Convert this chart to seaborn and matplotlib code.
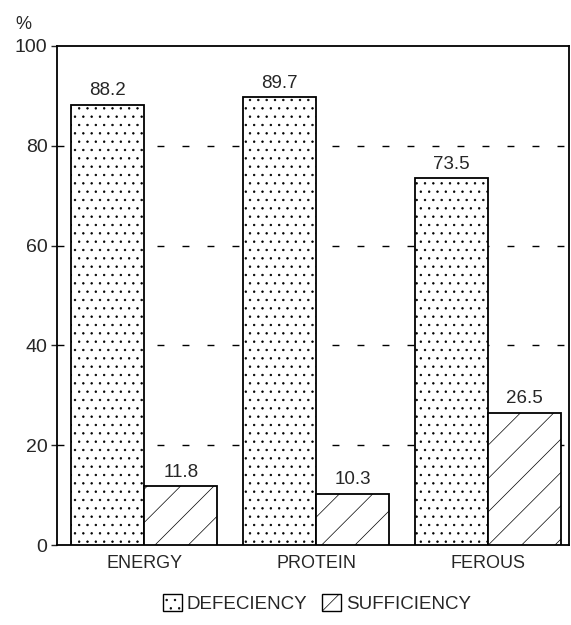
"""Deficiency vs sufficiency of nutrient intake, grouped bar chart."""

import matplotlib

matplotlib.use("Agg")
import matplotlib.pyplot as plt
import pandas as pd
import seaborn as sns
from matplotlib.patches import Patch

nutrients = ["ENERGY", "PROTEIN", "FEROUS"]
deficiency = [88.2, 89.7, 73.5]
sufficiency = [11.8, 10.3, 26.5]
status_labels = ["DEFECIENCY", "SUFFICIENCY"]
y_ticks = [0, 20, 40, 60, 80, 100]

df = pd.DataFrame(
    {
        "nutrient": nutrients * 2,
        "status": [status_labels[0]] * 3 + [status_labels[1]] * 3,
        "pct": deficiency + sufficiency,
    }
)

sns.set_style("white")
plt.rcParams["font.family"] = ["Liberation Sans", "DejaVu Sans"]
plt.rcParams["hatch.linewidth"] = 0.5

fig = plt.figure(figsize=(5.71, 6.25), dpi=100)
ax = fig.add_axes([0.1, 0.128, 0.8965, 0.7985])

hatches = ["..", "/"]
sns.barplot(
    data=df,
    x="nutrient",
    y="pct",
    hue="status",
    order=nutrients,
    hue_order=status_labels,
    width=0.85,
    gap=0,
    palette=["white", "white"],
    edgecolor="black",
    linewidth=1.3,
    ax=ax,
    legend=False,
    zorder=3,
)

for container, hatch in zip(ax.containers, hatches):
    for bar in container:
        bar.set_hatch(hatch)
        bar.set_facecolor("white")
        bar.set_edgecolor("black")
    ax.bar_label(container, fmt="%.1f", padding=4, fontsize=13.5)

# dashed reference lines behind the bars
for y in y_ticks[1:-1]:
    ax.axhline(y, color="black", lw=1.0, ls=(0, (5, 13)), zorder=1)

ax.set_ylim(0, 100)
ax.set_xlim(-0.506, 2.47)
ax.set_yticks(y_ticks)
ax.tick_params(axis="y", labelsize=14, length=4, width=1, direction="out", left=True, pad=3)
ax.tick_params(axis="x", labelsize=13, length=0, pad=7)
ax.set_xlabel("")
ax.set_ylabel("")
for spine in ax.spines.values():
    spine.set_color("black")
    spine.set_linewidth(1.3)

ax.text(-0.065, 1.025, "%", transform=ax.transAxes, fontsize=13, ha="center", va="bottom")

handles = [
    Patch(facecolor="white", edgecolor="black", hatch=h, label=lab)
    for h, lab in zip(hatches, status_labels)
]
fig.legend(
    handles=handles,
    loc="center",
    bbox_to_anchor=(0.555, 0.035),
    ncol=2,
    frameon=False,
    fontsize=13.5,
    handlelength=1.0,
    handleheight=1.0,
    handletextpad=0.25,
    columnspacing=0.8,
)

fig.savefig("out.png", dpi=100)
